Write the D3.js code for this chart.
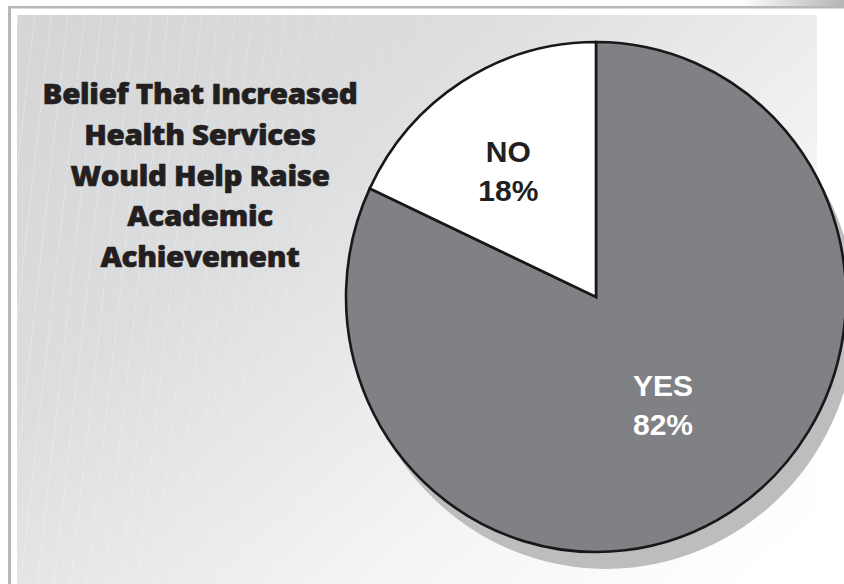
<!DOCTYPE html>
<html>
<head>
<meta charset="utf-8">
<script src="https://cdn.jsdelivr.net/npm/d3@7"></script>
<style>
  html, body { margin: 0; padding: 0; background: #ffffff; }
  svg { display: block; }
</style>
</head>
<body>
<svg id="chart" width="844" height="584"></svg>
<script>
// Survey answers and their shares (percent)
const categories = ["YES", "NO"];
const values = [82, 18];
const sliceColors = ["#808184", "#ffffff"];
const labelColors = ["#ffffff", "#231f20"];
const titleLines = [
  "Belief That Increased",
  "Health Services",
  "Would Help Raise",
  "Academic",
  "Achievement"
];

const W = 844, H = 584;
const svg = d3.select("#chart");
const defs = svg.append("defs");

// Background panel gradient: grey on the left fading to white at lower right
const bg = defs.append("linearGradient")
  .attr("id", "panelGrad")
  .attr("x1", "0").attr("y1", "0.1")
  .attr("x2", "1").attr("y2", "0.9");
bg.append("stop").attr("offset", "0").attr("stop-color", "#d5d6d8");
bg.append("stop").attr("offset", "0.3").attr("stop-color", "#dcdddf");
bg.append("stop").attr("offset", "0.7").attr("stop-color", "#f4f4f4");
bg.append("stop").attr("offset", "1").attr("stop-color", "#ffffff");

const topBar = defs.append("linearGradient")
  .attr("id", "topBarGrad")
  .attr("x1", "0").attr("y1", "0").attr("x2", "1").attr("y2", "0");
topBar.append("stop").attr("offset", "0").attr("stop-color", "#ffffff");
topBar.append("stop").attr("offset", "1").attr("stop-color", "#b4b5b7");

// Outer frame
svg.append("rect").attr("x", 740).attr("y", 0).attr("width", W - 740).attr("height", 8)
  .attr("fill", "url(#topBarGrad)");
svg.append("rect").attr("x", 8).attr("y", 6).attr("width", W - 8).attr("height", 2.5)
  .attr("fill", "#b7b8ba");
svg.append("rect").attr("x", 8).attr("y", 6).attr("width", 3).attr("height", H - 6)
  .attr("fill", "#b7b8ba");

// Inner panel
const panel = { x: 17, y: 15, w: 800, h: H - 15 };
svg.append("rect")
  .attr("x", panel.x).attr("y", panel.y)
  .attr("width", panel.w).attr("height", panel.h)
  .attr("fill", "url(#panelGrad)");

// Faint slanted dashed texture over the panel
const clip = defs.append("clipPath").attr("id", "panelClip");
clip.append("rect").attr("x", panel.x).attr("y", panel.y)
  .attr("width", panel.w).attr("height", panel.h);
const texture = svg.append("g").attr("clip-path", "url(#panelClip)");
const slant = 0.11, gap = 16.7;
d3.range(panel.x - 80, panel.x + panel.w + 20, gap).forEach((x0, i) => {
  texture.append("line")
    .attr("x1", x0 + slant * H).attr("y1", panel.y)
    .attr("x2", x0).attr("y2", H)
    .attr("stroke", "#ffffff")
    .attr("stroke-width", 0.8)
    .attr("stroke-dasharray", "14 3")
    .attr("opacity", Math.max(0.1, 0.45 - i * 0.012));
});

// Title, stretched so its widest line spans the left column
const titleCx = 200, titleWidth = 315;
const titleG = svg.append("g");
const titleText = titleG.append("g")
  .attr("font-family", "'Open Sans', Lato, sans-serif")
  .attr("font-weight", 800)
  .attr("font-size", 28)
  .attr("fill", "#231f20")
  .attr("stroke", "#231f20")
  .attr("stroke-width", 0.6)
  .attr("text-anchor", "middle");
const tNodes = titleText.selectAll("text").data(titleLines).join("text")
  .attr("x", 0)
  .attr("y", (d, i) => 104 + i * 40.8)
  .attr("letter-spacing", -0.3)
  .text(d => d);
const widest = d3.max(tNodes.nodes(), n => n.getComputedTextLength());
titleG.attr("transform", `translate(${titleCx},0) scale(${titleWidth / widest},1)`);

// Pie
const cx = 596, cy = 297, R = 250, sy = 1.02;
const pie = d3.pie().sort(null).value(d => d.value);
const arcs = pie(categories.map((c, i) => ({ name: c, value: values[i], i })));
const arc = d3.arc().innerRadius(0).outerRadius(R);
const labelRadius = [0.5, 0.61];
const labelShiftX = [0, -6];

// Drop shadow disc
svg.append("ellipse")
  .attr("cx", cx + 10).attr("cy", cy + 17)
  .attr("rx", R).attr("ry", R * sy)
  .attr("fill", "#bcbdbf");

const pieG = svg.append("g")
  .attr("transform", `translate(${cx},${cy}) scale(1,${sy})`);

pieG.selectAll("path.slice").data(arcs).join("path")
  .attr("class", "slice")
  .attr("d", arc)
  .attr("fill", d => sliceColors[d.data.i])
  .attr("stroke", "#1a1718")
  .attr("stroke-width", 2.6)
  .attr("stroke-linejoin", "miter");

// Slice labels: name and percentage, centred on a point inside each slice
const labelG = svg.append("g")
  .attr("transform", `translate(${cx},${cy})`)
  .attr("font-family", "'Liberation Sans', Arial, sans-serif")
  .attr("font-weight", 700)
  .attr("font-size", 30)
  .attr("text-anchor", "middle");

arcs.forEach(d => {
  const r = R * labelRadius[d.data.i];
  const [lx, ly] = d3.arc().innerRadius(r).outerRadius(r).centroid(d);
  const t = labelG.append("text")
    .attr("fill", labelColors[d.data.i])
    .attr("transform", `translate(${lx + labelShiftX[d.data.i]},${ly * sy + (d.data.i ? 5 : 0)})`);
  t.append("tspan").attr("x", 0).attr("y", -9).text(d.data.name);
  t.append("tspan").attr("x", 0).attr("y", 30).text(d.data.value + "%");
});
</script>
</body>
</html>
